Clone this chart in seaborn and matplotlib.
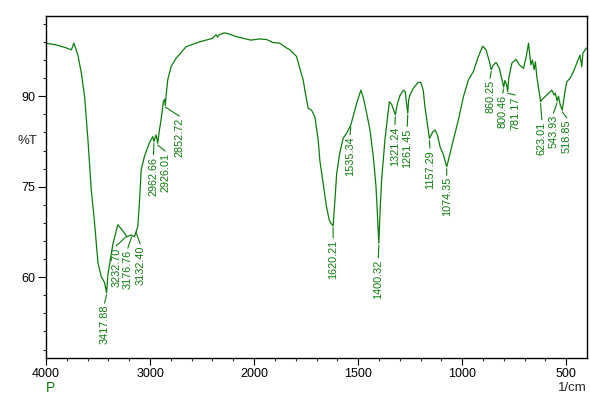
import numpy as np
import matplotlib
matplotlib.use('Agg')
import matplotlib.pyplot as plt
import seaborn as sns

sns.set_style('white')
plt.rcParams['font.family'] = ['Liberation Sans', 'DejaVu Sans']

# spectrum (wavenumber 1/cm, %T)
wavenumber = [4000, 3900, 3821, 3756, 3732, 3693, 3661, 3629, 3597, 3565, 3533, 3501, 3469, 3437,
              3417.88, 3405, 3358, 3310, 3245, 3223, 3181, 3150, 3118, 3102, 3085, 3054, 3006, 2974,
              2962.66, 2942, 2926.01, 2910, 2894, 2872, 2860, 2852.72, 2845, 2830, 2798, 2750, 2654,
              2526, 2399, 2366, 2351, 2335, 2287, 2255, 2175, 2031, 1973, 1940, 1909, 1876, 1844,
              1828, 1796, 1780, 1764, 1756, 1740, 1724, 1708, 1692, 1684, 1668, 1652, 1639, 1632,
              1620.21, 1612, 1603, 1588, 1572, 1555, 1535.34, 1524, 1507, 1487, 1476, 1459, 1443,
              1427, 1414, 1406, 1400.32, 1395, 1387, 1371, 1350, 1338, 1321.24, 1311, 1298, 1282,
              1274, 1261.45, 1257, 1251, 1235, 1211, 1199, 1187, 1179, 1163, 1157.29, 1141, 1130,
              1119, 1106, 1090, 1074.35, 1066, 1042, 1018, 994, 970, 946, 922, 901, 885, 869,
              860.25, 850, 837, 821, 805, 800.46, 795, 787, 781.17, 776, 761, 741, 725, 705, 692,
              681, 670, 662, 654, 648, 641, 623.01, 617, 593, 569, 558, 552, 543.93, 537, 529,
              518.85, 505, 497, 481, 465, 449, 434, 425, 420, 409, 402]
transmittance = [98.8, 98.5, 98.1, 97.7, 98.8, 96.8, 93.9, 89.9, 82.8, 74.5, 69.0, 62.4, 60.1, 59.1,
                 57.4, 60.4, 65.4, 68.7, 67.3, 66.7, 67.0, 66.7, 68.4, 72.3, 77.8, 80.0, 82.3, 83.3,
                 82.5, 83.6, 82.2, 84.4, 86.1, 89.1, 89.5, 88.5, 90.2, 92.7, 94.9, 96.3, 98.2,
                 99.0, 99.6, 100.2, 99.8, 100.2, 100.5, 100.4, 99.9, 99.3, 99.5, 99.4, 98.9, 98.8, 98.0,
                 97.7, 96.6, 94.6, 92.7, 91.0, 88.0, 87.7, 86.6, 82.8, 79.4, 75.6, 71.7, 69.5, 69.0,
                 68.5, 72.5, 77.2, 80.6, 83.0, 83.9, 85.2, 86.6, 88.8, 91.0, 89.9, 87.2, 84.4,
                 80.0, 75.0, 69.5, 65.6, 70.6, 76.1, 82.8, 89.1, 88.6, 86.9, 88.8, 90.2, 91.0,
                 90.8, 87.2, 89.4, 90.2, 91.3, 92.3, 92.3, 91.0, 88.3, 84.4, 83.0, 84.1, 84.4,
                 83.6, 81.6, 80.3, 78.3, 79.4, 82.8, 86.1, 89.9, 92.7, 94.1, 96.6, 98.3, 97.7, 95.7,
                 94.4, 95.2, 95.6, 94.6, 92.2, 91.5, 92.6, 92.0, 90.8, 93.0, 95.5, 96.1, 95.2, 94.6, 96.6,
                 98.8, 95.2, 96.0, 94.4, 95.7, 93.2, 89.1, 89.4, 90.2, 91.0, 90.2, 90.5, 89.2, 90.0, 88.6,
                 87.7, 91.0, 92.4, 93.0, 94.1, 95.5, 96.8, 94.9, 97.1, 97.7, 98.0]

peaks = [3417.88, 3232.70, 3176.76, 3132.40, 2962.66, 2926.01, 2852.72, 1620.21, 1535.34,
         1400.32, 1321.24, 1261.45, 1157.29, 1074.35, 860.25, 800.46, 781.17, 623.01,
         543.93, 518.85]

# where each peak label sits (x in 1/cm, top of text in %T)
label_pos = [(3437, 55.4), (3325, 64.9), (3214, 64.5), (3095, 65.2), (2967, 80.0), (2855, 80.6),
             (2718, 86.4), (1620, 66.2), (1539, 83.3), (1403, 62.9), (1323, 85.0), (1264, 84.7),
             (1154.5, 81.1), (1074, 76.6), (866, 92.7), (805, 90.2), (745, 89.9), (617, 85.8),
             (561, 86.9), (497, 86.1)]

green = '#0b7d0b'

fig = plt.figure(figsize=(5.9, 3.96), dpi=100)
ax = fig.add_axes([46 / 590, 38 / 396, 541 / 590, 342 / 396])


# x axis is stretched 2x below 2000 1/cm
def fwd(x):
    x = np.asarray(x, dtype=float)
    return np.where(x >= 2000, x, 2 * x - 2000)


def inv(u):
    u = np.asarray(u, dtype=float)
    return np.where(u >= 2000, u, (u + 2000) / 2)


ax.set_xscale('function', functions=(fwd, inv))

sns.lineplot(x=wavenumber, y=transmittance, ax=ax, color=green, lw=0.9, estimator=None)

wn_arr = np.array(wavenumber)[::-1]
t_arr = np.array(transmittance)[::-1]
for p, (lx, ly) in zip(peaks, label_pos):
    pt = np.interp(p, wn_arr, t_arr)
    ax.plot([p, lx], [pt - 0.3, ly + 0.3], color=green, lw=0.8)
    ax.text(lx, ly, f'{p:.2f}', rotation=90, ha='center', va='top',
            fontsize=7.8, color=green)

ax.set_xlim(4000, 400)
ax.set_ylim(46.6, 103.3)
ax.set_xticks([4000, 3000, 2000, 1500, 1000, 500])
ax.set_xticklabels(['4000', '3000', '2000', '1500', '1000', '500'])
ax.set_xticks(list(range(3800, 2000, -200)) + list(range(1900, 400, -100)), minor=True)
ax.set_yticks([60, 75, 90])
ax.set_yticks(np.arange(48, 103, 3), minor=True)
ax.tick_params(axis='both', which='major', direction='out', length=5, width=0.8,
               labelsize=9, colors='black', pad=2)
ax.tick_params(axis='both', which='minor', direction='out', length=2.5, width=0.8)
ax.tick_params(axis='y', which='major', length=6)
ax.tick_params(bottom=True, left=True, which='both')
for s in ax.spines.values():
    s.set_color('black')
    s.set_linewidth(1.0)
ax.set_xlabel('')
ax.set_ylabel('')

fig.text(17 / 590, 1 - 141 / 396, '%T', ha='left', va='center', fontsize=9.5)
fig.text(587 / 590, 1 - 388 / 396, '1/cm', ha='right', va='center', fontsize=9.5)
fig.text(46 / 590, 1 - 388 / 396, 'P', ha='left', va='center', fontsize=10, color=green)

fig.savefig('out.png', dpi=100)
